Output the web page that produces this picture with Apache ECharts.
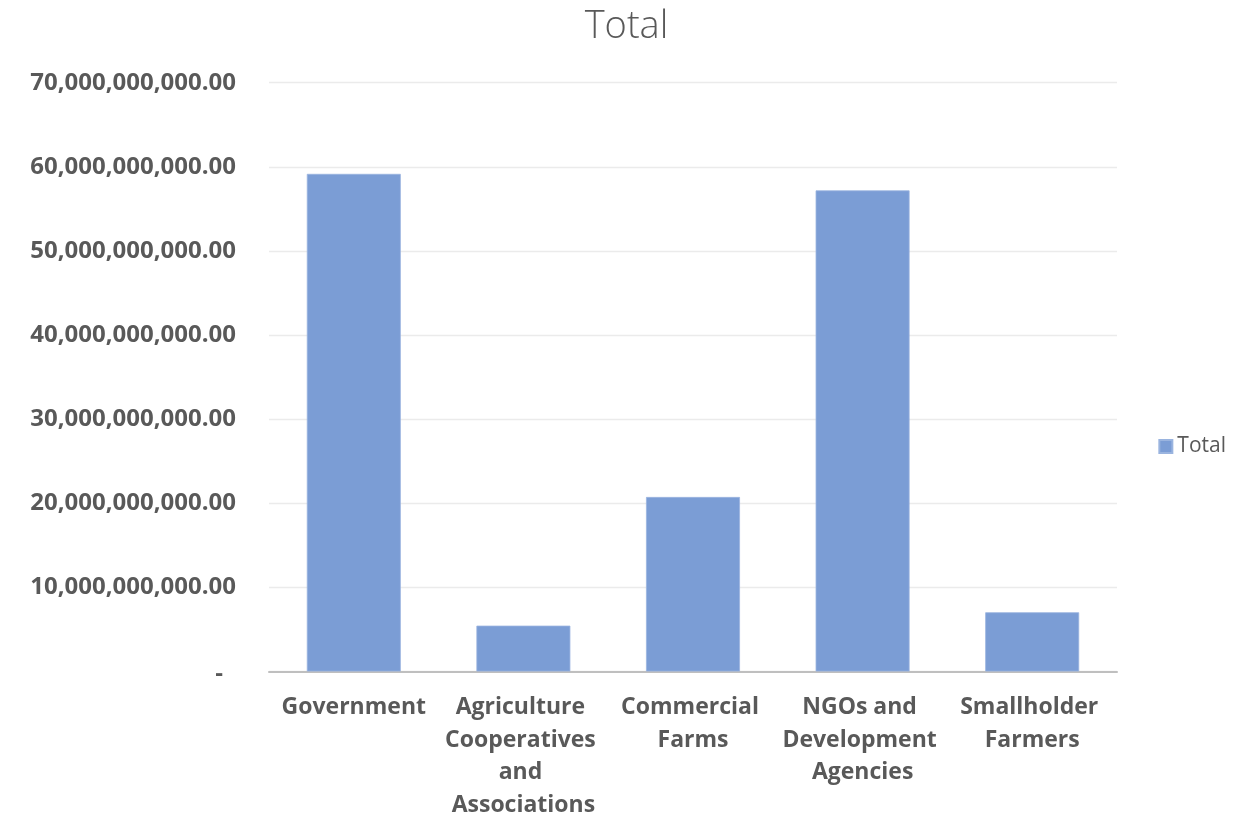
<!DOCTYPE html>
<html><head><meta charset="utf-8">
<script src="https://cdn.jsdelivr.net/npm/echarts@6/dist/echarts.min.js"></script>
<style>html,body{margin:0;padding:0;background:#fff;overflow:hidden}#c{width:1253px;height:816px}</style>
</head><body><div id="c"></div>
<script>
const categories = ["Government", "Agriculture Cooperatives and Associations", "Commercial Farms", "NGOs and Development Agencies", "Smallholder Farmers"];
const totals = [59160000000, 5450000000, 20750000000, 57200000000, 7040000000];
const seriesName = "Total";
const yTicks = [0, 10000000000, 20000000000, 30000000000, 40000000000, 50000000000, 60000000000, 70000000000];

const chart = echarts.init(document.getElementById('c'), null, { width: 1253, height: 816 });
function fmt(v){
  if (v === 0) return '{z|-}';
  return v.toLocaleString('en-US', {minimumFractionDigits: 2, maximumFractionDigits: 2});
}
chart.setOption({
  animation: false,
  title: { text: seriesName, left: 'center', top: 3,
    textStyle: { fontFamily: 'Open Sans', fontWeight: 300, fontSize: 38, color: '#595959' } },
  legend: { data: [seriesName], right: 22, top: 431, orient: 'vertical',
    icon: 'rect', itemWidth: 13, itemHeight: 13, itemGap: 6,
    textStyle: { fontFamily: 'Open Sans', fontSize: 21, color: '#595959' } },
  grid: { left: 269, right: 136, top: 82.7, height: 588.8, containLabel: false, outerBoundsMode: 'none' },
  xAxis: { type: 'category', data: categories,
    axisLine: { lineStyle: { color: '#BFBFBF', width: 2 } },
    axisTick: { show: false },
    axisLabel: { interval: 0, margin: 20, width: 168, overflow: 'break', lineHeight: 32.5,
      fontFamily: 'Open Sans', fontWeight: 'bold', fontSize: 23, color: '#595959' } },
  yAxis: { type: 'value', min: yTicks[0], max: yTicks[yTicks.length-1], interval: yTicks[1]-yTicks[0],
    axisLine: { show: false }, axisTick: { show: false },
    splitLine: { lineStyle: { color: '#EBEBEB', width: 1.3 } },
    axisLabel: { margin: 33, formatter: fmt,
      fontFamily: 'Open Sans', fontWeight: 'bold', fontSize: 24, color: '#595959',
      rich: { z: { fontFamily: 'Open Sans', fontWeight: 'bold', fontSize: 24, color: '#595959', padding: [6, 13, 0, 0] } } } },
  series: [{ name: seriesName, type: 'bar', data: totals, barCategoryGap: '44.6%',
    itemStyle: { color: '#7B9DD5', borderColor: '#9AB4DF', borderWidth: 0.8 } }]
});
</script></body></html>
